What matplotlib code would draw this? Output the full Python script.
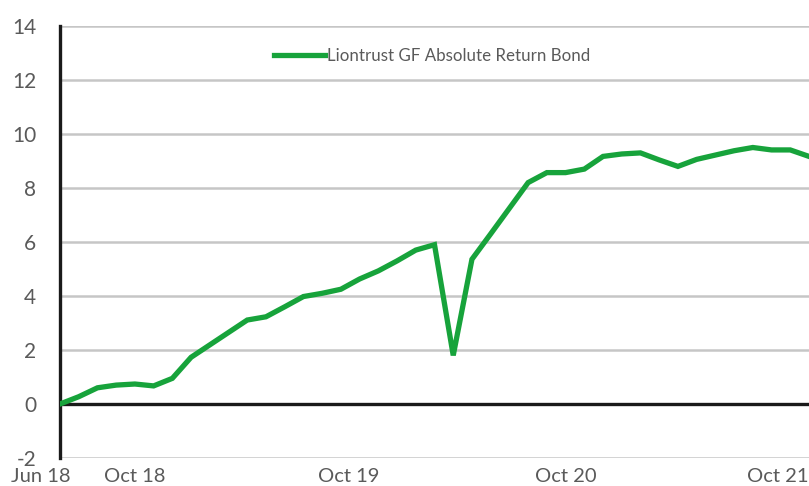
import numpy as np
import matplotlib
matplotlib.use("Agg")
import matplotlib.pyplot as plt

# ==================== Data ====================
# monthly cumulative performance (%), Jun 18 .. Oct 21
SERIES_NAME = "Liontrust GF Absolute Return Bond"
returns = [0.0, 0.27, 0.60, 0.70, 0.74, 0.67, 0.95, 1.73, 2.19, 2.65,
           3.11, 3.23, 3.60, 3.98, 4.10, 4.25, 4.63, 4.93, 5.30, 5.70,
           5.90, 1.80, 5.36, 6.30, 7.25, 8.20, 8.57, 8.57, 8.70, 9.17,
           9.26, 9.30, 9.04, 8.80, 9.06, 9.22, 9.38, 9.50, 9.41, 9.41,
           9.17]
months = np.arange(len(returns))

x_labels = ["Jun 18", "Oct 18", "Oct 19", "Oct 20", "Oct 21"]
x_label_pos = [-1.0, 4.0, 15.4, 27.0, 38.35]
y_ticks = [-2, 0, 2, 4, 6, 8, 10, 12, 14]

# ==================== Style ====================
GREEN = '#17a33b'
TEXT = '#5a5a5a'
plt.rcParams.update({
    'font.family': ['Lato', 'DejaVu Sans'],
    'font.weight': 'normal',
})

fig = plt.figure(figsize=(8.09, 4.86), dpi=100)
ax = fig.add_axes([60 / 809, 1 - 458 / 486, 1 - 60 / 809, 432 / 486])

for y in y_ticks:
    if y == 0:
        continue
    ax.axhline(y, color='#c6c6c6', linewidth=1.8, zorder=1)
ax.axhline(0, color='#1a1a1a', linewidth=2.4, zorder=2)

ax.plot(months, returns, color=GREEN, linewidth=3.8, solid_joinstyle='miter',
        zorder=3, label=SERIES_NAME)

ax.set_xlim(0, 40)
ax.set_ylim(-2, 14)
ax.set_yticks(y_ticks)
ax.set_yticklabels([str(v) for v in y_ticks])
ax.tick_params(axis='y', length=0, pad=17, labelsize=15, labelcolor=TEXT)
ax.set_xticks([])

for lab, pos in zip(x_labels, x_label_pos):
    ax.text(pos, -2.88, lab, ha='center', va='baseline', fontsize=14.5,
            color=TEXT, clip_on=False)

for s in ['top', 'right', 'bottom']:
    ax.spines[s].set_visible(False)
ax.spines['left'].set_linewidth(2.4)
ax.spines['left'].set_color('#1a1a1a')

ax.legend(loc='upper left', bbox_to_anchor=(0.265, 0.985), frameon=False,
          fontsize=12.2, handlelength=3.0, handletextpad=0.15,
          labelcolor=TEXT)

fig.savefig('out.png', dpi=100, facecolor='white')
